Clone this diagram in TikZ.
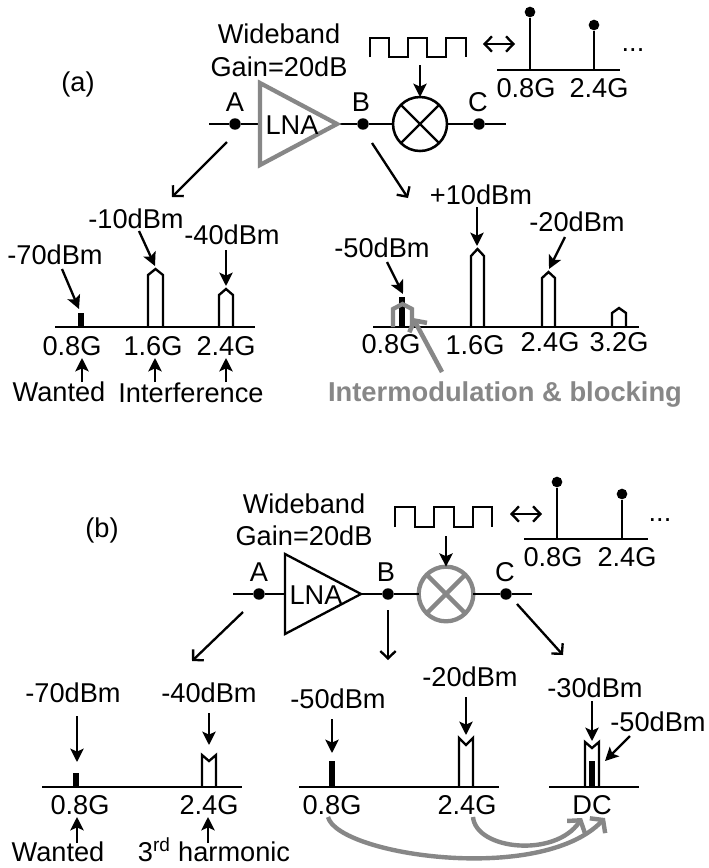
\documentclass[tikz,border=0pt]{standalone}
\usepackage{fontspec}
\setmainfont{Liberation Sans}
\usetikzlibrary{arrows.meta}
\definecolor{grayhl}{RGB}{135,135,135}
\tikzset{
  ln/.style={line width=1.75pt,line join=miter,color=black},
  lab/.style={inner sep=0pt,outer sep=0pt,font=\fontsize{20.4pt}{23pt}\selectfont,align=center,text=black},
  graylab/.style={inner sep=0pt,outer sep=0pt,font=\fontsize{20.5pt}{23pt}\selectfont\bfseries,text=grayhl},
  dotnode/.style={circle,fill=black,inner sep=0pt,minimum size=8.6pt},
  stemdot/.style={circle,fill=black,inner sep=0pt,minimum size=8pt},
  fa/.style={ln,-{Stealth[length=10pt,width=10pt,inset=2.2pt]}},
  oa/.style={ln,-{Straight Barb[length=5.5pt,width=11.5pt]}},
  da/.style={ln,{Straight Barb[length=5.5pt,width=11.5pt]}-{Straight Barb[length=5.5pt,width=11.5pt]}},
  ga/.style={line width=3.4pt,color=grayhl,-{Straight Barb[length=6pt,width=15pt]}},
  gcurve/.style={line width=3.3pt,color=grayhl,-{Straight Barb[length=6pt,width=16pt]}},
  mixb/.style={circle,draw=black,line width=1.9pt,inner sep=0pt,minimum size=40.5pt,outer sep=0pt},
  mixg/.style={circle,draw=grayhl,line width=3.2pt,inner sep=0pt,minimum size=41pt,outer sep=0pt},
  thick bar/.style={line width=4.2pt,color=black,line cap=butt},
}
\newcommand{\conn}[5][fa]{\coordinate (#2s) at (#3); \coordinate (#2e) at (#4); \draw[#1] (#2s) -- (#2e);#5}
\newcommand{\peakshape}[7][ln]{\draw[#1] (#2,#7) -- (#2,#5) -- (#4,#6) -- (#3,#5) -- (#3,#7);}
\begin{document}
\begin{tikzpicture}[x=0.75pt,y=-0.75pt]
\useasboundingbox[fill=white] (0,0) rectangle (708,868);

% ===== panel (a) =====
\node[lab] (la) at (78,84) {(a)};
\node[lab] (wa) at (279,34) {Wideband};
\node[lab] (ga) at (279,67) {Gain=20dB};
\coordinate (ainL) at (209,124);
\coordinate (ampAin) at (260,124);
\coordinate (ampAt) at (260,83);
\coordinate (ampAb) at (260,165);
\coordinate (ampAtip) at (337,124);
\node[dotnode] (Aa) at (235,124) {};
\node[dotnode] (Ba) at (363,124) {};
\node[mixb] (Ma) at (420,124) {};
\node[dotnode] (Ca) at (479,124) {};
\coordinate (aoutR) at (506,124);
\draw[ln] (ainL) -- (Aa) -- (ampAin);
\draw[ln] (ampAtip) -- (Ba) -- (Ma.west);
\draw[ln] (Ma.east) -- (Ca) -- (aoutR);
\draw[ln] (Ma.north east) -- (Ma.south west);
\draw[ln] (Ma.north west) -- (Ma.south east);
\draw[line width=3.2pt,color=grayhl,line join=miter] (ampAt) -- (ampAtip) -- (ampAb) -- cycle;
\node[lab] (lnaa) at (292,125) {LNA};
\node[lab] (tAa) at (235,102) {A};
\node[lab] (tBa) at (361,102) {B};
\node[lab] (tCa) at (478,102) {C};
\draw[ln] (370,57) -- (370,38) -- (389,38) -- (389,57) -- (408,57) -- (408,38) -- (427,38) -- (427,57) -- (446,57) -- (446,38) -- (466,38) -- (466,57);
\coordinate (swa) at (420,65);
\draw[fa] (swa) -- (Ma.north);
\conn[da]{dba}{483,44}{515,44}{}
\coordinate (axaL) at (497,70); \coordinate (axaR) at (620,70);
\draw[ln] (axaL) -- (axaR);
\node[stemdot] (sa1) at (530,12) {};
\node[stemdot] (sa2) at (594,25) {};
\draw[ln] (sa1) -- (530,70);
\draw[ln] (sa2) -- (594,70);
\node[lab] (fa1) at (526,88) {0.8G};
\node[lab] (fa2) at (599,88) {2.4G};
\node[lab] (ela) at (633,50) {...};
\conn[oa]{Ada}{227,142}{172,197}{}
\conn[oa]{Bda}{372,143}{408,198}{}

% left spectrum (a)
\draw[ln] (55,327) -- (255,327);
\draw[thick bar] (81,327) -- (81,313);
\peakshape{148}{163}{155.5}{275}{269}{327}
\peakshape{219}{233}{226}{295}{289}{327}
\node[lab] at (55,255) (l70a) {-70dBm};
\node[lab] at (136,219) (l10a) {-10dBm};
\node[lab] at (232,235) (l40a) {-40dBm};
\conn{a70}{62,269}{79,309}{}
\conn{a10}{139,231}{155,266}{}
\conn{a40}{226,250}{226,286}{}
\node[lab] (fa3) at (72,346) {0.8G};
\node[lab] (fa4) at (153,346) {1.6G};
\node[lab] (fa5) at (226,346) {2.4G};
\conn{ua1}{82,382}{82,358}{}
\conn{ua2}{155,382}{155,358}{}
\conn{ua3}{226,382}{226,358}{}
\node[lab] (wanta) at (59,392) {Wanted};
\node[lab] (inta) at (191,393) {Interference};

% right spectrum (a)
\draw[ln] (373,327) -- (639,327);
\draw[thick bar] (402,327) -- (402,297);
\peakshape[line width=3.2pt,color=grayhl]{393}{412}{402.5}{309}{304}{327}
\peakshape{471}{484}{477.5}{256}{249}{327}
\peakshape{542}{555}{548.5}{278}{272}{327}
\peakshape{612}{626}{619}{313}{308}{327}
\node[lab] (p10a) at (481,195) {+10dBm};
\node[lab] (m20a) at (577,222) {-20dBm};
\node[lab] (m50a) at (382,248) {-50dBm};
\conn{b10}{477,207}{477,246}{}
\conn{b20}{565,237}{549,269}{}
\conn{b50}{387,262}{403,294}{}
\node[lab] (fb1) at (391,344) {0.8G};
\node[lab] (fb2) at (475,345) {1.6G};
\node[lab] (fb3) at (550,342) {2.4G};
\node[lab] (fb4) at (619,342) {3.2G};
\conn[ga]{imd}{442,372}{413,318}{}
\node[graylab] (imt) at (505,394) {Intermodulation \& blocking};

% ===== panel (b) =====
\node[lab] (lb) at (102,530) {(b)};
\node[lab] (wb) at (304,504) {Wideband};
\node[lab] (gb) at (304,536) {Gain=20dB};
\coordinate (binL) at (233,594);
\coordinate (ampBin) at (285,594);
\coordinate (ampBt) at (285,554);
\coordinate (ampBb) at (285,634);
\coordinate (ampBtip) at (361,594);
\node[dotnode] (Ab) at (259,594) {};
\node[dotnode] (Bb) at (388,594) {};
\node[mixg] (Mb) at (446,594) {};
\node[dotnode] (Cb) at (506,594) {};
\coordinate (boutR) at (532,594);
\draw[ln] (binL) -- (Ab) -- (ampBin);
\draw[ln] (ampBtip) -- (Bb) -- (Mb.west);
\draw[ln] (Mb.east) -- (Cb) -- (boutR);
\draw[line width=3.2pt,color=grayhl] (Mb.north east) -- (Mb.south west);
\draw[line width=3.2pt,color=grayhl] (Mb.north west) -- (Mb.south east);
\draw[ln] (ampBt) -- (ampBtip) -- (ampBb) -- cycle;
\node[lab] (lnab) at (316,595) {LNA};
\node[lab] (tAb) at (259,572) {A};
\node[lab] (tBb) at (386,572) {B};
\node[lab] (tCb) at (505,572) {C};
\draw[ln] (395,527) -- (395,507) -- (415,507) -- (415,527) -- (434,527) -- (434,507) -- (454,507) -- (454,527) -- (473,527) -- (473,507) -- (492,507) -- (492,527);
\coordinate (swb) at (446,536);
\draw[fa] (swb) -- (Mb.north);
\conn[da]{dbb}{510,514}{542,514}{}
\draw[ln] (524,539) -- (648,539);
\node[stemdot] (sb1) at (557,482) {};
\node[stemdot] (sb2) at (622,494) {};
\draw[ln] (sb1) -- (557,539);
\draw[ln] (sb2) -- (622,539);
\node[lab] (fc1) at (553,557) {0.8G};
\node[lab] (fc2) at (627,557) {2.4G};
\node[lab] (elb) at (660,520) {...};
\conn[oa]{Adb}{243,612}{192,661}{}
\conn[oa]{Bdb}{388,610}{388,660}{}
\conn[oa]{Cdb}{517,604}{563,655}{}

% left spectrum (b)
\draw[ln] (42,787) -- (242,787);
\draw[thick bar] (76,787) -- (76,773);
\peakshape{202}{216}{209}{755}{761}{787}
\node[lab] (l70b) at (73,693) {-70dBm};
\node[lab] (l40b) at (209,693) {-40dBm};
\conn{c70}{77,716}{77,762}{}
\conn{c40}{209,713}{209,745}{}
\node[lab] (fd1) at (80,805) {0.8G};
\node[lab] (fd2) at (209,805) {2.4G};
\conn{ub1}{77,843}{77,817}{}
\conn{ub2}{208,843}{208,817}{}
\node[lab] (wantb) at (58,852) {Wanted};
\node[lab] (harm) at (214,850) {3\textsuperscript{rd} harmonic};

% middle spectrum (b)
\draw[ln] (299,787) -- (499,787);
\draw[thick bar] (332,787) -- (332,761);
\peakshape{459}{473}{466}{738}{745}{787}
\node[lab] (m50b) at (338,699) {-50dBm};
\node[lab] (m20b) at (470,677) {-20dBm};
\conn{d50}{332,719}{332,753}{}
\conn{d20}{466,697}{466,735}{}
\node[lab] (fe1) at (332,805) {0.8G};
\node[lab] (fe2) at (467,805) {2.4G};

% right spectrum (b)
\draw[ln] (549,787) -- (639,787);
\draw[thick bar] (592,787) -- (592,761);
\peakshape{585}{599}{592}{742}{748}{787}
\node[lab] (m30b) at (595,688) {-30dBm};
\node[lab] (m50c) at (658,722) {-50dBm};
\conn{e30}{592,701}{592,741}{}
\conn{e50}{630,736}{605,761}{}
\node[lab] (dc) at (592,805) {DC};

% gray feedback curves
\coordinate (g1s) at (328,817); \coordinate (g1e) at (605,818);
\coordinate (g2s) at (473,817); \coordinate (g2e) at (582,818);
\draw[gcurve] (g1s) .. controls (338,855) and (540,885) .. (g1e);
\draw[gcurve] (g2s) .. controls (476,850) and (555,858) .. (g2e);
\end{tikzpicture}
\end{document}
